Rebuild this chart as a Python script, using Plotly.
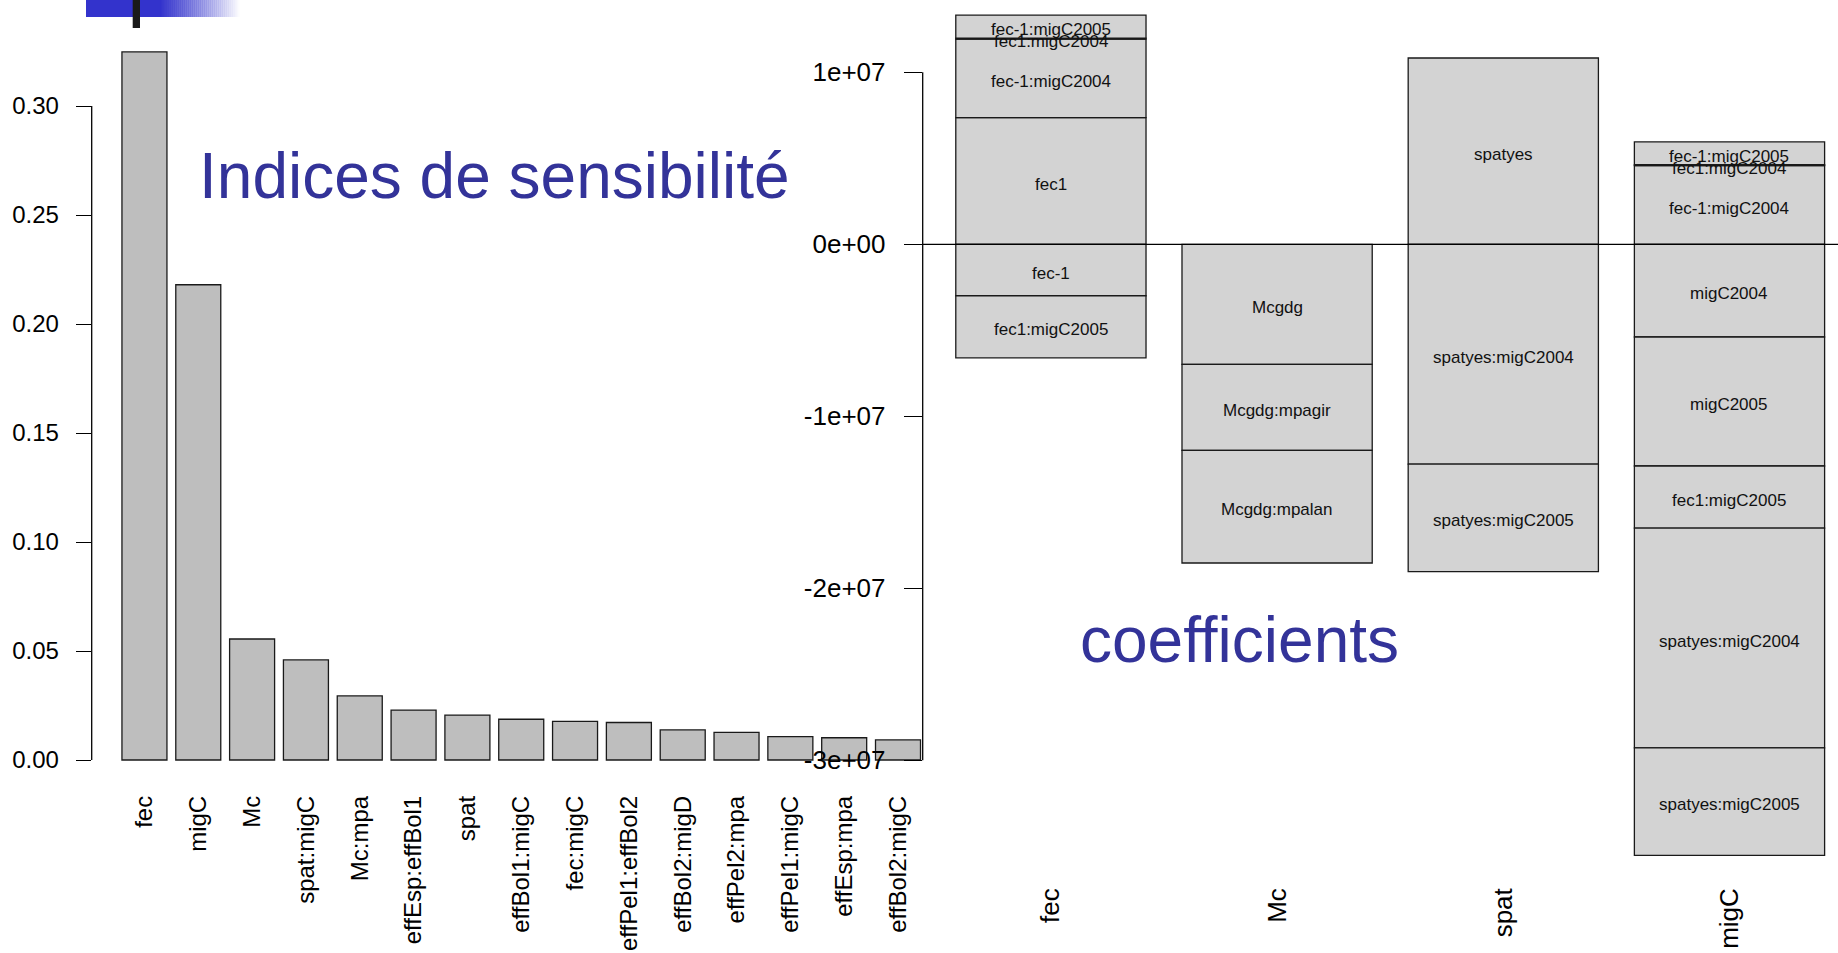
import plotly.graph_objects as go

# ---------------- data ----------------
# Left: sensitivity indices
sens_terms = ["fec", "migC", "Mc", "spat:migC", "Mc:mpa", "effEsp:effBol1", "spat",
              "effBol1:migC", "fec:migC", "effPel1:effBol2", "effBol2:migD",
              "effPel2:mpa", "effPel1:migC", "effEsp:mpa", "effBol2:migC"]
sens_values = [0.3248, 0.218, 0.0555, 0.0459, 0.0294, 0.0229, 0.0206,
               0.0187, 0.0177, 0.0172, 0.0138, 0.0127, 0.0107, 0.0102, 0.0092]
sens_ticks = [0.00, 0.05, 0.10, 0.15, 0.20, 0.25, 0.30]

# Right: coefficients, stacked per factor column
factor_columns = ["fec", "Mc", "spat", "migC"]
coef_names = ["fec1", "fec-1", "fec-1:migC2004", "fec1:migC2004", "fec-1:migC2005",
              "migC2004", "migC2005", "fec1:migC2005",
              "Mcgdg", "Mcgdg:mpagir", "Mcgdg:mpalan",
              "spatyes", "spatyes:migC2004", "spatyes:migC2005"]
coef_values = [7.36e6, -2.99e6, 4.57e6, 0.06e6, 1.33e6,
               -5.39e6, -7.50e6, -3.61e6,
               -6.98e6, -5.00e6, -6.55e6,
               10.83e6, -12.78e6, -6.25e6]
coef_columns = [["fec"], ["fec"], ["fec", "migC"], ["fec", "migC"], ["fec", "migC"],
                ["migC"], ["migC"], ["fec", "migC"],
                ["Mc"], ["Mc"], ["Mc"],
                ["spat"], ["spat", "migC"], ["spat", "migC"]]
coef_ticks = [-3e7, -2e7, -1e7, 0, 1e7]
coef_ticktext = ["-3e+07", "-2e+07", "-1e+07", "0e+00", "1e+07"]

# ---------------- geometry helpers (page pixels) ----------------
W, H = 1838, 953
def px_x(p):
    return p / W
def px_y(p):
    return 1 - p / H

FONT = "Liberation Sans, Arial, sans-serif"

fig = go.Figure()

# left bar chart
fig.add_trace(go.Bar(
    x=sens_terms, y=sens_values, xaxis="x", yaxis="y",
    width=0.836, marker=dict(color="#BEBEBE", line=dict(color="#1a1a1a", width=1.3)),
    hoverinfo="x+y"))

# right stacked coefficient chart (relative stacking in trace order)
for name, val, cols in zip(coef_names, coef_values, coef_columns):
    fig.add_trace(go.Bar(
        x=cols, y=[val] * len(cols), xaxis="x2", yaxis="y2", name=name,
        width=0.841,
        marker=dict(color="#D3D3D3", line=dict(color="#1a1a1a", width=1.3)),
        hoverinfo="name+y"))

# segment labels, centred on each stacked segment (computed from the stacked data)
pos_base = {c: 0.0 for c in factor_columns}
neg_base = {c: 0.0 for c in factor_columns}
for name, val, cols in zip(coef_names, coef_values, coef_columns):
    for c in cols:
        if val >= 0:
            yc = pos_base[c] + val / 2
            pos_base[c] += val
        else:
            yc = neg_base[c] + val / 2
            neg_base[c] += val
        fig.add_annotation(text=name, x=c, y=yc, xref="x2", yref="y2",
                           showarrow=False, yshift=-3, xanchor="center", yanchor="middle",
                           font=dict(family=FONT, size=17, color="#111111"))

left_x0, left_x1 = 91.7, 926.0
right_x0 = 922.7

fig.update_layout(
    width=W, height=H, autosize=False,
    margin=dict(l=0, r=0, t=0, b=0, pad=0),
    paper_bgcolor="white", plot_bgcolor="rgba(0,0,0,0)",
    showlegend=False, barmode="relative",
    xaxis=dict(domain=[px_x(left_x0), px_x(left_x1)], anchor="y",
               type="category", categoryorder="array", categoryarray=sens_terms,
               range=[-0.98, 14.52], tickangle=-90, ticks="",
               tickfont=dict(family=FONT, size=24, color="black"),
               showgrid=False, zeroline=False, showline=False, fixedrange=True),
    yaxis=dict(domain=[px_y(790), px_y(20)], anchor="x",
               range=[-0.01376, 0.33945], tickvals=sens_ticks,
               ticktext=[f"{v:.2f}" for v in sens_ticks],
               ticks="outside", ticklen=15, tickwidth=1.3, tickcolor="black",
               ticklabelstandoff=12,
               tickfont=dict(family=FONT, size=24, color="black"),
               showgrid=False, zeroline=False, showline=False, fixedrange=True),
    xaxis2=dict(domain=[px_x(right_x0), 1.0], anchor="y2",
                type="category", categoryorder="array", categoryarray=factor_columns,
                range=[-0.5668, 3.4797], tickangle=-90, ticks="",
                ticklabelstandoff=12,
                tickfont=dict(family=FONT, size=26, color="black"),
                showgrid=False, zeroline=False, showline=False, fixedrange=True),
    yaxis2=dict(domain=[px_y(870), 1.0], anchor="x2",
                range=[-3.6378e7, 1.42035e7], tickvals=coef_ticks, ticktext=coef_ticktext,
                ticks="outside", ticklen=18, tickwidth=1.3, tickcolor="black",
                ticklabelstandoff=13,
                tickfont=dict(family=FONT, size=26, color="black"),
                showgrid=False, zeroline=False, showline=False, fixedrange=True),
)

shapes = []
# axis lines spanning only the tick range (R style)
shapes.append(dict(type="line", xref="x domain", yref="y", x0=0, x1=0,
                   y0=sens_ticks[0], y1=sens_ticks[-1], line=dict(color="black", width=1.3)))
shapes.append(dict(type="line", xref="x2 domain", yref="y2", x0=0, x1=0,
                   y0=coef_ticks[0], y1=coef_ticks[-1], line=dict(color="black", width=1.3)))
# horizontal reference line at zero
shapes.append(dict(type="line", xref="x2 domain", yref="y2", x0=0, x1=1,
                   y0=0, y1=0, line=dict(color="black", width=1.3), layer="above"))

# slide header decoration: blue bar with fade, black tick
shapes.append(dict(type="rect", xref="paper", yref="paper",
                   x0=px_x(86), x1=px_x(161), y0=px_y(17), y1=1,
                   fillcolor="rgb(51,51,204)", line=dict(width=0)))
n = 40
for i in range(n):
    a = 1 - (i + 0.5) / n
    xa = 160 + i * 80 / n
    xb = 160 + (i + 1) * 80 / n
    shapes.append(dict(type="rect", xref="paper", yref="paper",
                       x0=px_x(xa), x1=px_x(xb + 0.3), y0=px_y(17), y1=1,
                       fillcolor=f"rgba(51,51,204,{a:.3f})", line=dict(width=0)))
shapes.append(dict(type="rect", xref="paper", yref="paper",
                   x0=px_x(132.7), x1=px_x(140), y0=px_y(28), y1=1,
                   fillcolor="#1a1a1a", line=dict(width=0)))
fig.update_layout(shapes=shapes)

# slide titles
fig.add_annotation(text="Indices de sensibilité", xref="paper", yref="paper",
                   x=px_x(197), y=px_y(176), xanchor="left", yanchor="middle",
                   showarrow=False, font=dict(family=FONT, size=64, color="#333399"))
fig.add_annotation(text="coefficients", xref="paper", yref="paper",
                   x=px_x(1078), y=px_y(640), xanchor="left", yanchor="middle",
                   showarrow=False, font=dict(family=FONT, size=64, color="#333399"))

fig.write_html("out.html", config={"displayModeBar": False},
               post_script="document.body.style.margin='0';document.body.style.overflow='hidden';")
